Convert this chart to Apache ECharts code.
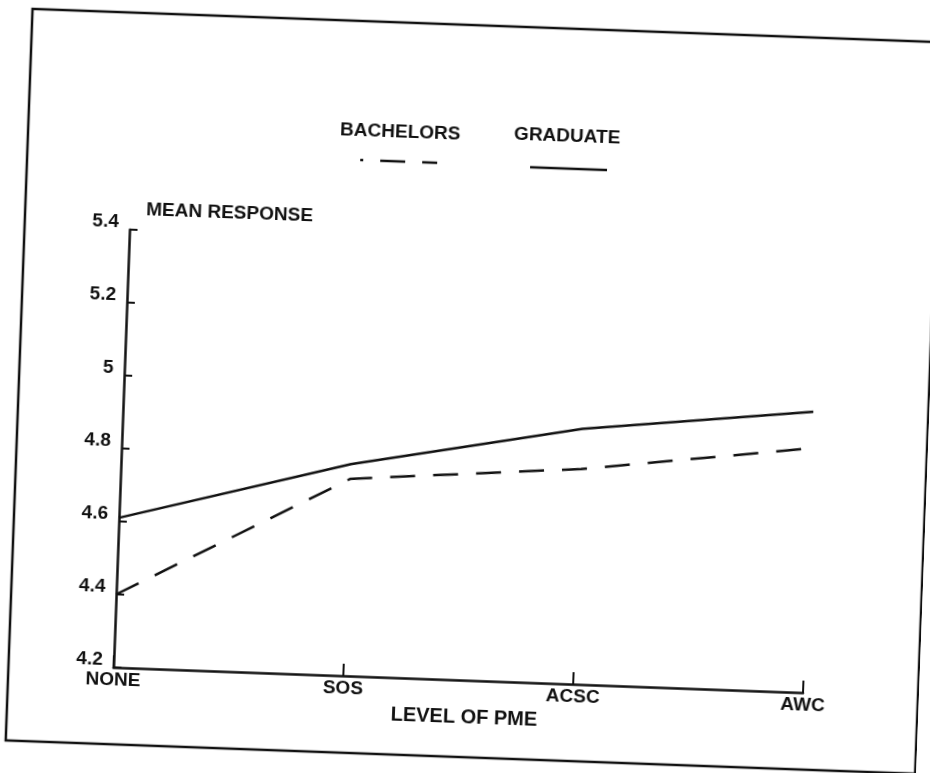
<!DOCTYPE html>
<html>
<head>
<meta charset="utf-8">
<script src="https://cdn.jsdelivr.net/npm/echarts@6/dist/echarts.min.js"></script>
<style>
html, body { margin: 0; padding: 0; background: #fff; overflow: hidden; }
#chart { width: 930px; height: 773px; transform: rotate(2.1deg); transform-origin: 465px 386.5px; }
</style>
</head>
<body>
<div id="chart"></div>
<script>
// ---- data ----
const categories = ['NONE', 'SOS', 'ACSC', 'AWC'];
const seriesNames = ['BACHELORS', 'GRADUATE'];
const bachelors = [4.40, 4.74, 4.79, 4.87];
const graduate = [4.61, 4.78, 4.90, 4.97];
const yTickLabels = ['4.2', '4.4', '4.6', '4.8', '5', '5.2', '5.4'];
const xAxisTitle = 'LEVEL OF PME';
const yAxisTitle = 'MEAN RESPONSE';

const INK = '#111';
const FONT = "'Liberation Sans', Arial, sans-serif";
const WEIGHT = 'bold';
const yMin = 4.2, yMax = 5.4, yStep = 0.2;

const chart = echarts.init(document.getElementById('chart'), null, { renderer: 'canvas' });

chart.setOption({
  backgroundColor: '#fff',
  animation: false,
  textStyle: { fontFamily: FONT, color: INK },
  grid: { left: 124, right: 116, top: 242, bottom: 93, containLabel: false },
  xAxis: {
    type: 'category',
    data: categories,
    boundaryGap: false,
    name: xAxisTitle,
    nameLocation: 'middle',
    nameGap: 27,
    nameTextStyle: { fontFamily: FONT, fontWeight: WEIGHT, fontSize: 20, color: INK, padding: [0, 0, 0, 14] },
    axisLine: { show: true, lineStyle: { color: INK, width: 2.5 } },
    axisTick: { show: true, inside: true, length: 12, lineStyle: { color: INK, width: 2 } },
    axisLabel: { fontFamily: FONT, fontWeight: WEIGHT, fontSize: 19, color: INK, margin: 3 },
    splitLine: { show: false }
  },
  yAxis: {
    type: 'value',
    min: yMin,
    max: yMax,
    interval: yStep,
    name: yAxisTitle,
    nameLocation: 'end',
    nameGap: 20,
    nameTextStyle: { fontFamily: FONT, fontWeight: WEIGHT, fontSize: 19, color: INK, align: 'left', verticalAlign: 'middle', padding: [0, 0, 0, 16] },
    axisLine: { show: true, lineStyle: { color: INK, width: 2.5 } },
    axisTick: { show: true, inside: true, length: 8, lineStyle: { color: INK, width: 2 } },
    axisLabel: {
      fontFamily: FONT, fontWeight: WEIGHT, fontSize: 19, color: INK, margin: 11,
      verticalAlign: 'bottom', lineHeight: 14,
      formatter: function (v) { return yTickLabels[Math.round((v - yMin) / yStep)]; }
    },
    splitLine: { show: false }
  },
  series: [
    {
      name: seriesNames[0], type: 'line', data: bachelors,
      symbol: 'none', smooth: false,
      lineStyle: { color: INK, width: 2.5, type: [25, 18] }
    },
    {
      name: seriesNames[1], type: 'line', data: graduate,
      symbol: 'none', smooth: false,
      lineStyle: { color: INK, width: 2.5, type: 'solid' }
    }
  ],
  graphic: [
    { type: 'rect', silent: true, z: 0,
      shape: { x: 19, y: 25, width: 910, height: 732 },
      style: { fill: 'none', stroke: INK, lineWidth: 2.5 } },
    { type: 'text', silent: true, x: 391, y: 135,
      style: { text: seriesNames[0], fontFamily: FONT, fontWeight: WEIGHT, fontSize: 19, fill: INK, textAlign: 'center', textVerticalAlign: 'middle' } },
    { type: 'text', silent: true, x: 558, y: 133,
      style: { text: seriesNames[1], fontFamily: FONT, fontWeight: WEIGHT, fontSize: 19, fill: INK, textAlign: 'center', textVerticalAlign: 'middle' } },
    { type: 'line', silent: true,
      shape: { x1: 352, y1: 164, x2: 429, y2: 164 },
      style: { stroke: INK, lineWidth: 2.5, lineDash: [25, 17], lineDashOffset: 22 } },
    { type: 'line', silent: true,
      shape: { x1: 522, y1: 165, x2: 599, y2: 165 },
      style: { stroke: INK, lineWidth: 2.5 } }
  ]
});
</script>
</body>
</html>
